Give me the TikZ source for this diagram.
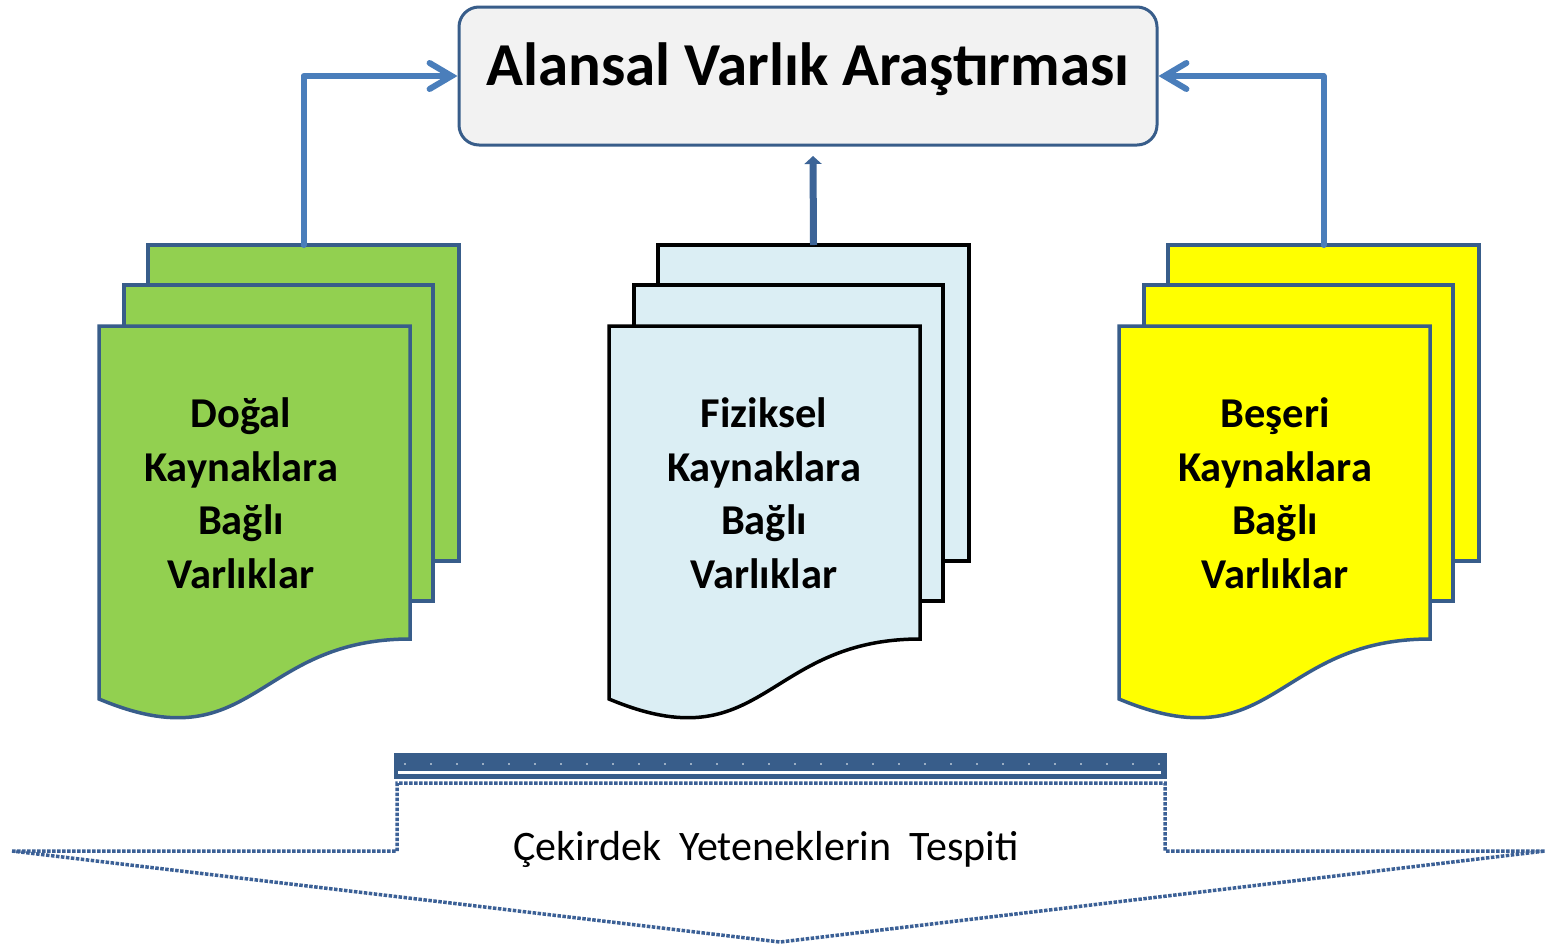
\documentclass[tikz,border=0pt]{standalone}
\usepackage{fontspec}
\setmainfont{Carlito}
\usetikzlibrary{arrows.meta}
\definecolor{sgreen}{HTML}{92D050}
\definecolor{slblue}{HTML}{DBEEF4}
\definecolor{syellow}{HTML}{FFFF00}
\definecolor{sdblue}{HTML}{385D8A}
\definecolor{smblue}{HTML}{4A7EBB}
\definecolor{sarrow}{HTML}{3C6497}
\definecolor{sboxfill}{HTML}{F2F2F2}
\definecolor{sdot}{HTML}{3B6096}
\tikzset{
  sheet/.style={draw, rectangle, anchor=north west, outer sep=0pt, inner sep=0pt, line width=3.5pt},
  sheetline/.style={line width=3.5pt},
  stacktext/.style={align=center, font=\bfseries\fontsize{42.5}{53.5}\selectfont, inner sep=0pt},
  titlebox/.style={draw=sdblue, fill=sboxfill, line width=3pt, rounded corners=20pt,
     minimum width=698pt, minimum height=138pt, inner sep=0pt,
     font=\bfseries\fontsize{61}{61}\selectfont, text height=41pt, text depth=23pt},
  sidearrow/.style={draw=smblue, line width=6pt, line cap=round, line join=round,
     -{Straight Barb[length=22pt,width=26pt,line cap=round]}},
  midarrow/.style={draw=sarrow, line width=7pt, -{Triangle[length=8pt,width=17pt]}},
  dotline/.style={draw=sdot, line width=3.5pt, dash pattern=on 3.5pt off 1.5pt},
}
\newcommand\mkstack[6]{%
  \node[sheet, fill=#2, draw=#3, minimum width=311pt, minimum height=316pt] (#4back) at ({#1+49},245) {};
  \node[sheet, fill=#2, draw=#3, minimum width=309pt, minimum height=316pt] (#4mid) at ({#1+25},285) {};
  \draw[sheetline, fill=#2, draw=#3] (#1,326) -- ({#1+311},326) -- ({#1+311},639)
     .. controls ({#1+155},639) and ({#1+155},764) .. (#1,699) -- cycle;
  \node[stacktext, anchor=base] (#4txt) at (#6,588) {#5};
}
\begin{document}
\begin{tikzpicture}[x=1pt,y=-1pt]
\useasboundingbox (0,0) rectangle (1546,946);
\fill[white] (0,0) rectangle (1546,946);

\node[titlebox] (title) at (808,76) {Alansal Varlık Araştırması};

\mkstack{99}{sgreen}{sdblue}{g}{Doğal\\Kaynaklara\\Bağlı\\Varlıklar}{241}
\mkstack{609}{slblue}{black}{b}{Fiziksel\\Kaynaklara\\Bağlı\\Varlıklar}{764}
\mkstack{1119}{syellow}{sdblue}{y}{Beşeri\\Kaynaklara\\Bağlı\\Varlıklar}{1275}

\coordinate (mtip) at (813,156);
\draw[sidearrow] (gback.north) |- (title.west);
\draw[sidearrow] (yback.north) |- (title.east);
\draw[midarrow] (bback.north) -- (mtip);

% bottom arrow shape
\fill[sdblue] (394,753) rectangle (1167,779);
\draw[white, line width=3pt] (398,772) -- (1161,772);
\draw[white, line width=1.6pt, line cap=round, dash pattern=on 0pt off 26pt] (405,764) -- (1160,764);
\draw[dotline] (12,851) -- (397,851) -- (397,783) -- (1165,783) -- (1165,851) -- (1545,851) -- (780,942) -- cycle;
\node[font=\fontsize{42}{42}\selectfont, anchor=base, inner sep=0pt] (core) at (766,860) {Çekirdek\hspace{9pt} Yeteneklerin\hspace{9pt} Tespiti};
\end{tikzpicture}
\end{document}
